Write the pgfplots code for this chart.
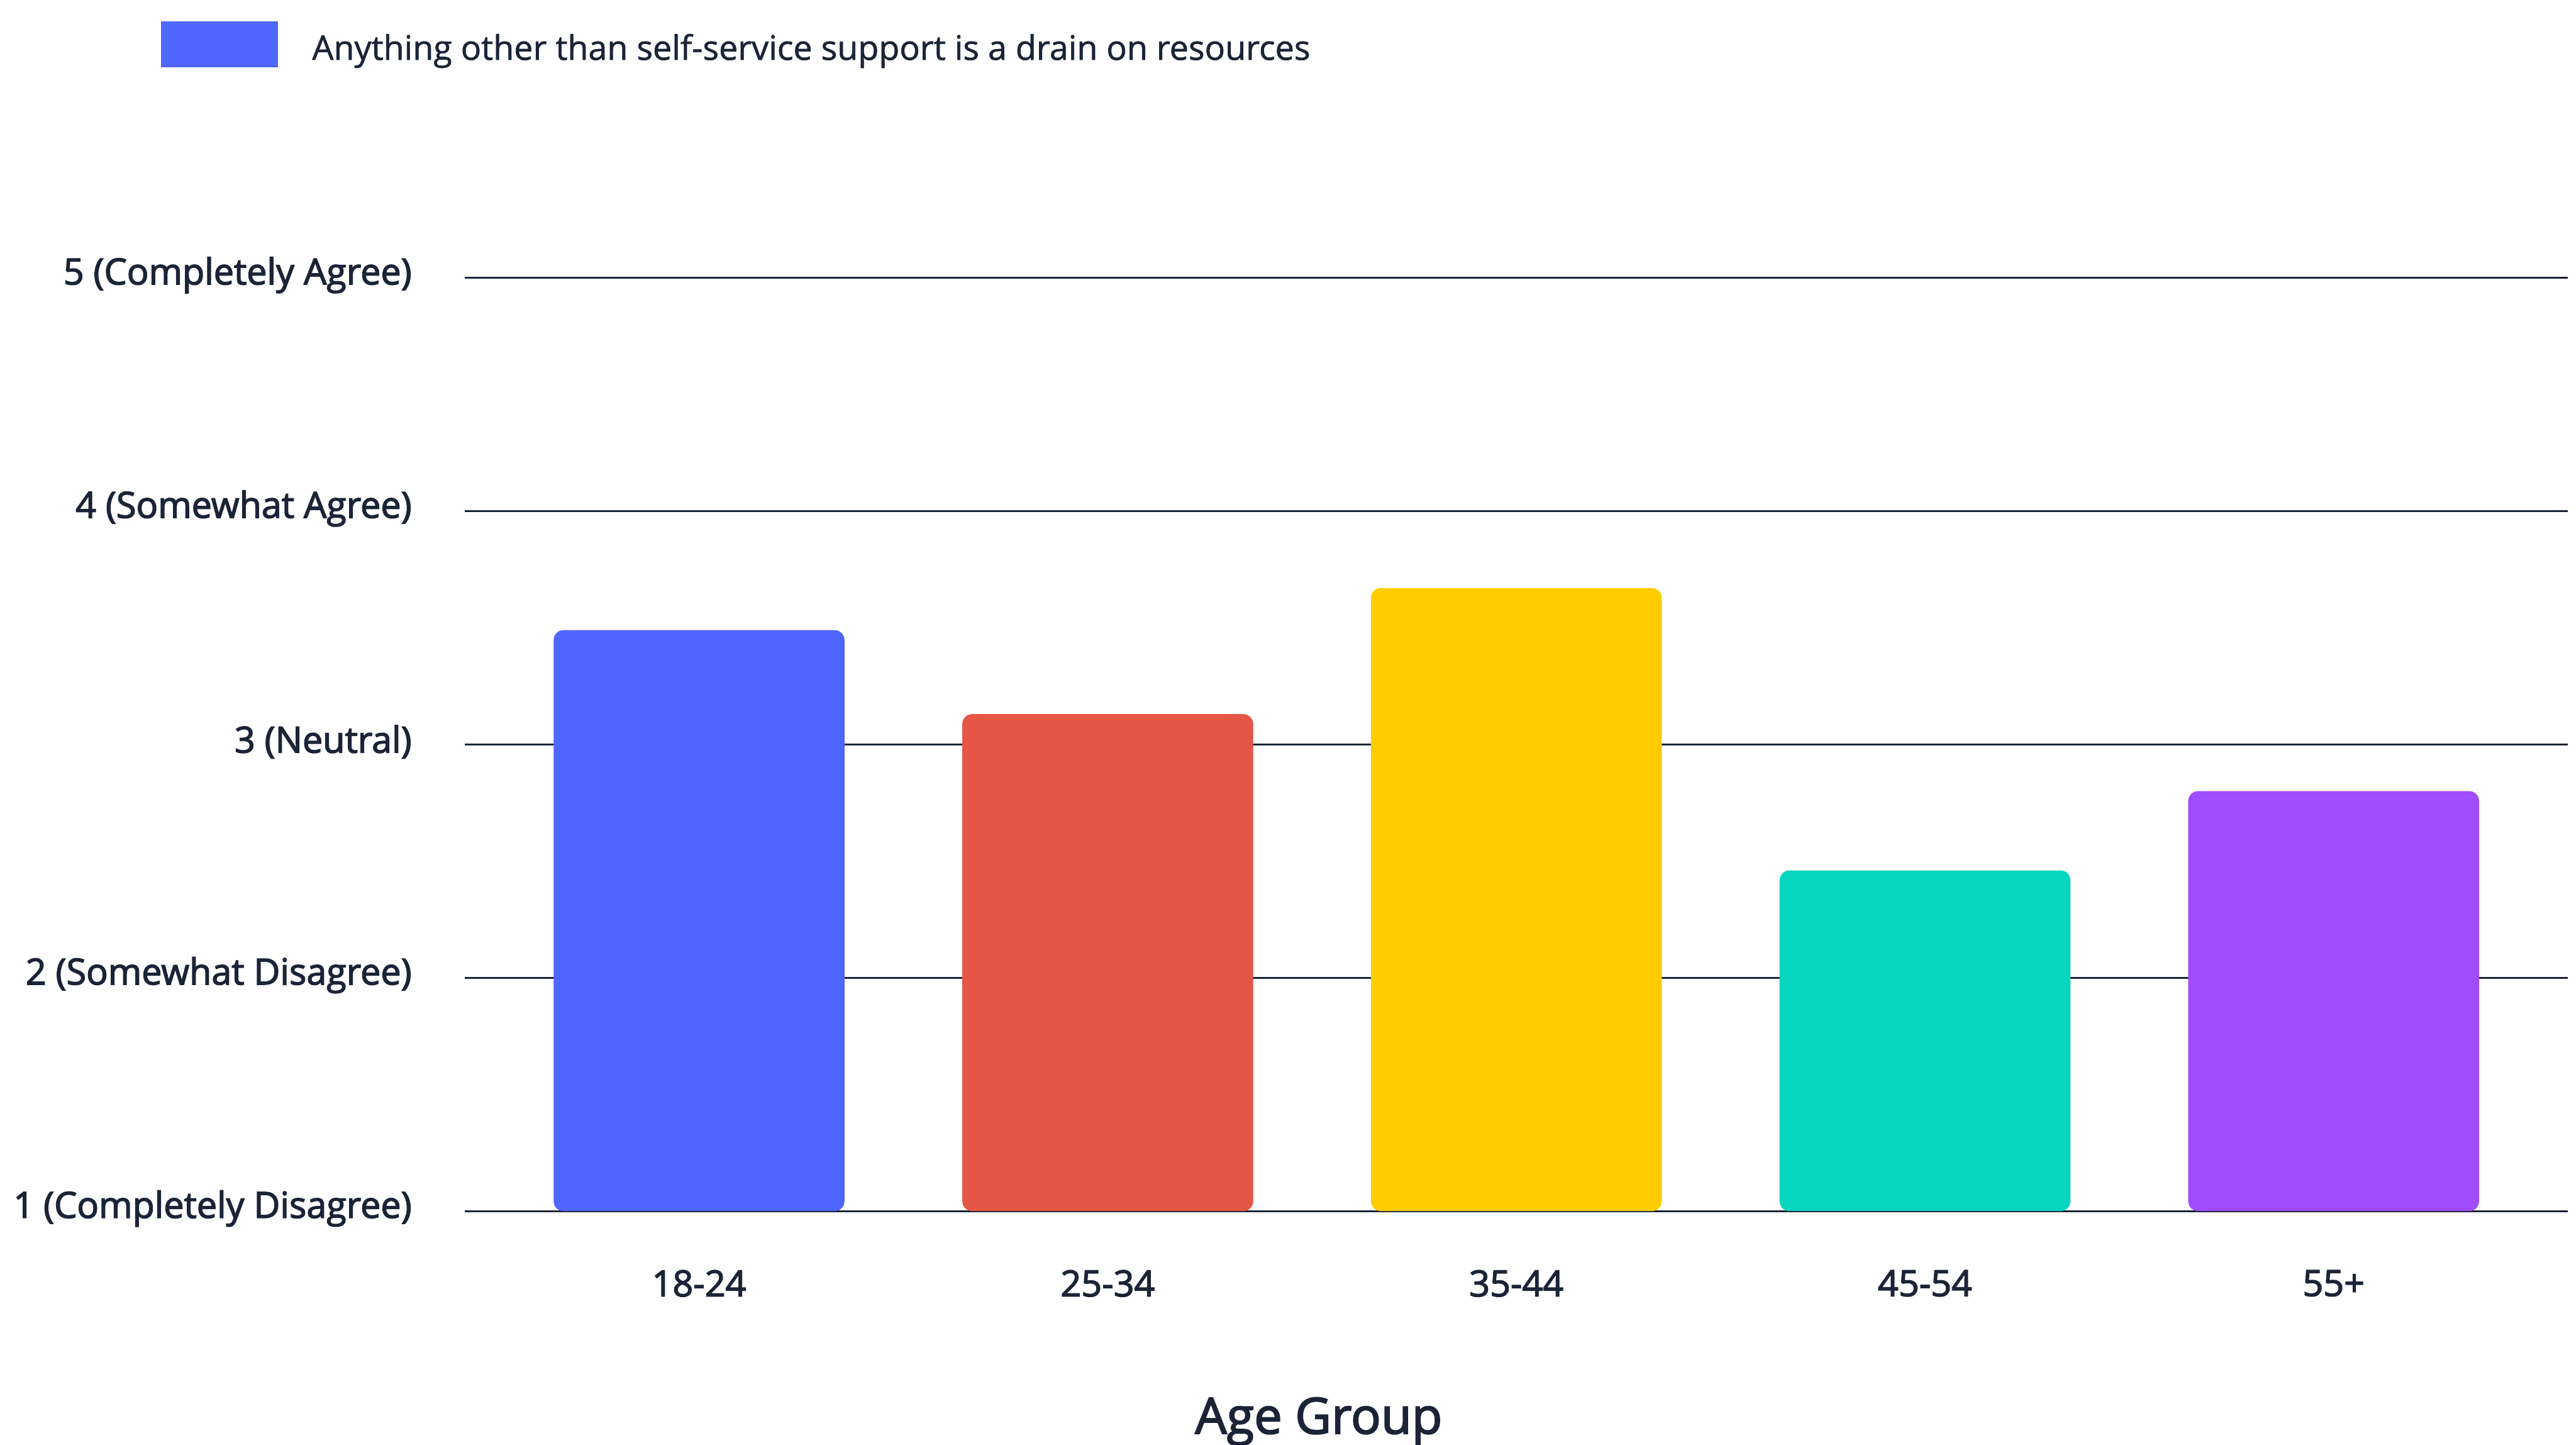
\documentclass[border=0pt]{standalone}
\usepackage{fontspec}
\setmainfont{Open Sans}
\newfontfamily\semib{Open Sans}[FakeBold=2.5]
\newfontfamily\medium{Open Sans}[FakeBold=1.2]
\usepackage{pgfplots}
\pgfplotsset{compat=1.18}
\definecolor{txt}{HTML}{1B2437}
\definecolor{cblue}{HTML}{4F66FF}
\definecolor{cred}{HTML}{E65644}
\definecolor{cyellow}{HTML}{FFCC00}
\definecolor{cteal}{HTML}{06D6BF}
\definecolor{cpurple}{HTML}{A04CFF}
\begin{document}
\begin{tikzpicture}
\begin{axis}[
  at={(0,0)}, anchor=south west,
  width=640pt, height=284pt, scale only axis,
  xmin=-0.573, xmax=4.573, ymin=1, ymax=5,
  axis line style={draw=none},
  major tick style={draw=none},
  ymajorgrids, grid style={txt, line width=0.6pt},
  ytick={1,2,3,4,5},
  yticklabels={1 (Completely Disagree),2 (Somewhat Disagree),3 (Neutral),4 (Somewhat Agree),5 (Completely Agree)},
  xtick={0,1,2,3,4},
  xticklabels={18-24,25-34,35-44,45-54,55+},
  ticklabel style={font=\semib\fontsize{11}{12}\selectfont, text=txt},
  yticklabel style={anchor=east, inner sep=0pt, xshift=-16pt, yshift=0.8pt},
  xticklabel style={anchor=north, inner sep=0pt, yshift=-13.5pt},
  every axis x label/.style={at={(axis description cs:0.406,0)}, anchor=north, inner sep=0pt, yshift=-56.5pt, font=\semib\fontsize{15.2}{17}\selectfont, text=txt},
  xlabel={Age Group},
  ybar, bar width=88.5pt, bar shift=0pt,
  legend style={at={(-0.1445,1.2746)}, anchor=north west, draw=none, fill=none,
    inner sep=0pt, outer sep=0pt, font=\medium\fontsize{10.3}{12}\selectfont, text=txt,
    nodes={inner sep=0pt},
    /tikz/every odd column/.style={column sep=10.5pt}},
  legend image code/.code={\fill[cblue, sharp corners] (0pt,-5.5pt) rectangle (35.5pt,8.5pt);},
  clip=true,
]
\addplot[fill=cblue, draw=none, rounded corners=3pt] coordinates {(0,3.49)};
\addlegendentry{Anything other than self-service support is a drain on resources}
\addplot[fill=cred, draw=none, rounded corners=3pt, forget plot] coordinates {(1,3.13)};
\addplot[fill=cyellow, draw=none, rounded corners=3pt, forget plot] coordinates {(2,3.67)};
\addplot[fill=cteal, draw=none, rounded corners=3pt, forget plot] coordinates {(3,2.46)};
\addplot[fill=cpurple, draw=none, rounded corners=3pt, forget plot] coordinates {(4,2.80)};
\end{axis}
\pgfresetboundingbox
\path[use as bounding box] (-141.5pt,-71pt) rectangle (642.5pt,368.5pt);
\end{tikzpicture}
\end{document}
